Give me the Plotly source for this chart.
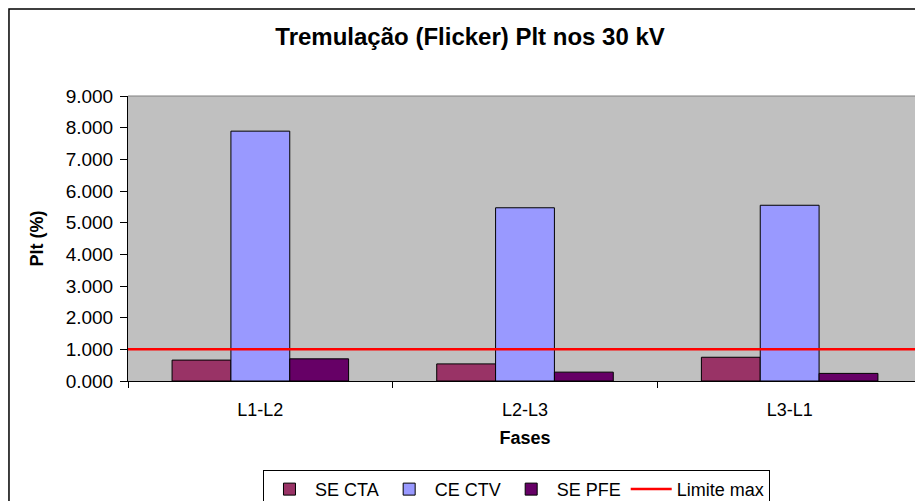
import plotly.graph_objects as go

fases = ["L1-L2", "L2-L3", "L3-L1"]
se_cta = [0.66, 0.54, 0.75]
ce_ctv = [7.89, 5.47, 5.55]
se_pfe = [0.70, 0.28, 0.24]
limite_max = 1.0

font = "Liberation Sans, Arial, sans-serif"

fig = go.Figure()
for name, vals, color in [("SE CTA", se_cta, "#993366"), ("CE CTV", ce_ctv, "#9999FF"), ("SE PFE", se_pfe, "#660066")]:
    fig.add_trace(go.Bar(x=fases, y=vals, name=name, marker=dict(color=color, line=dict(color="black", width=1))))

# limit line spans the whole plot width, drawn on a hidden overlaid axis
fig.add_trace(go.Scatter(x=[0, 1], y=[limite_max, limite_max], name="Limite max", mode="lines",
                         line=dict(color="#FF0000", width=2.5), xaxis="x2"))

fig.update_layout(
    width=915, height=493,
    margin=dict(l=120, r=1, t=88, b=120, autoexpand=False),
    paper_bgcolor="white", plot_bgcolor="#C0C0C0",
    font=dict(family=font, size=18, color="black"),
    title=dict(text="<b>Tremulação (Flicker) Plt nos 30 kV</b>", x=0.505, xanchor="center",
               yref="container", y=0.943, yanchor="middle", font=dict(size=24, family=font)),
    barmode="group", bargap=0.333, bargroupgap=0,
    showlegend=True,
    legend=dict(orientation="h", x=0.170, xanchor="left", y=-0.312, yanchor="top",
                bordercolor="black", borderwidth=1, font=dict(size=18), itemwidth=41,
                traceorder="normal", tracegroupgap=0),
    xaxis=dict(showline=True, linecolor="black", linewidth=1, ticks="outside", ticklen=6, tickcolor="black",
               tickson="boundaries", showgrid=False, tickfont=dict(size=18), ticklabelstandoff=12,
               title=dict(text="<b>Fases</b>", font=dict(size=18), standoff=12)),
    xaxis2=dict(overlaying="x", range=[0, 1], visible=False, fixedrange=True),
    yaxis=dict(range=[0, 9], dtick=1, tickformat=".3f", showline=True, linecolor="black", linewidth=1,
               ticks="outside", ticklen=7, tickcolor="black", showgrid=False, zeroline=False,
               tickfont=dict(size=19), ticklabelstandoff=3,
               title=dict(text="<b>Plt (%)</b>", font=dict(size=18), standoff=17)),
    shapes=[dict(type="rect", xref="paper", yref="paper", x0=-0.1499, x1=1.05, y0=-0.5, y1=1.3053,
                 line=dict(color="black", width=1.5), fillcolor="rgba(0,0,0,0)", layer="below"),
            dict(type="line", xref="paper", yref="paper", x0=0, x1=1, y0=1, y1=1,
                 line=dict(color="#808080", width=1))],
)

fig.write_html("out.html")
